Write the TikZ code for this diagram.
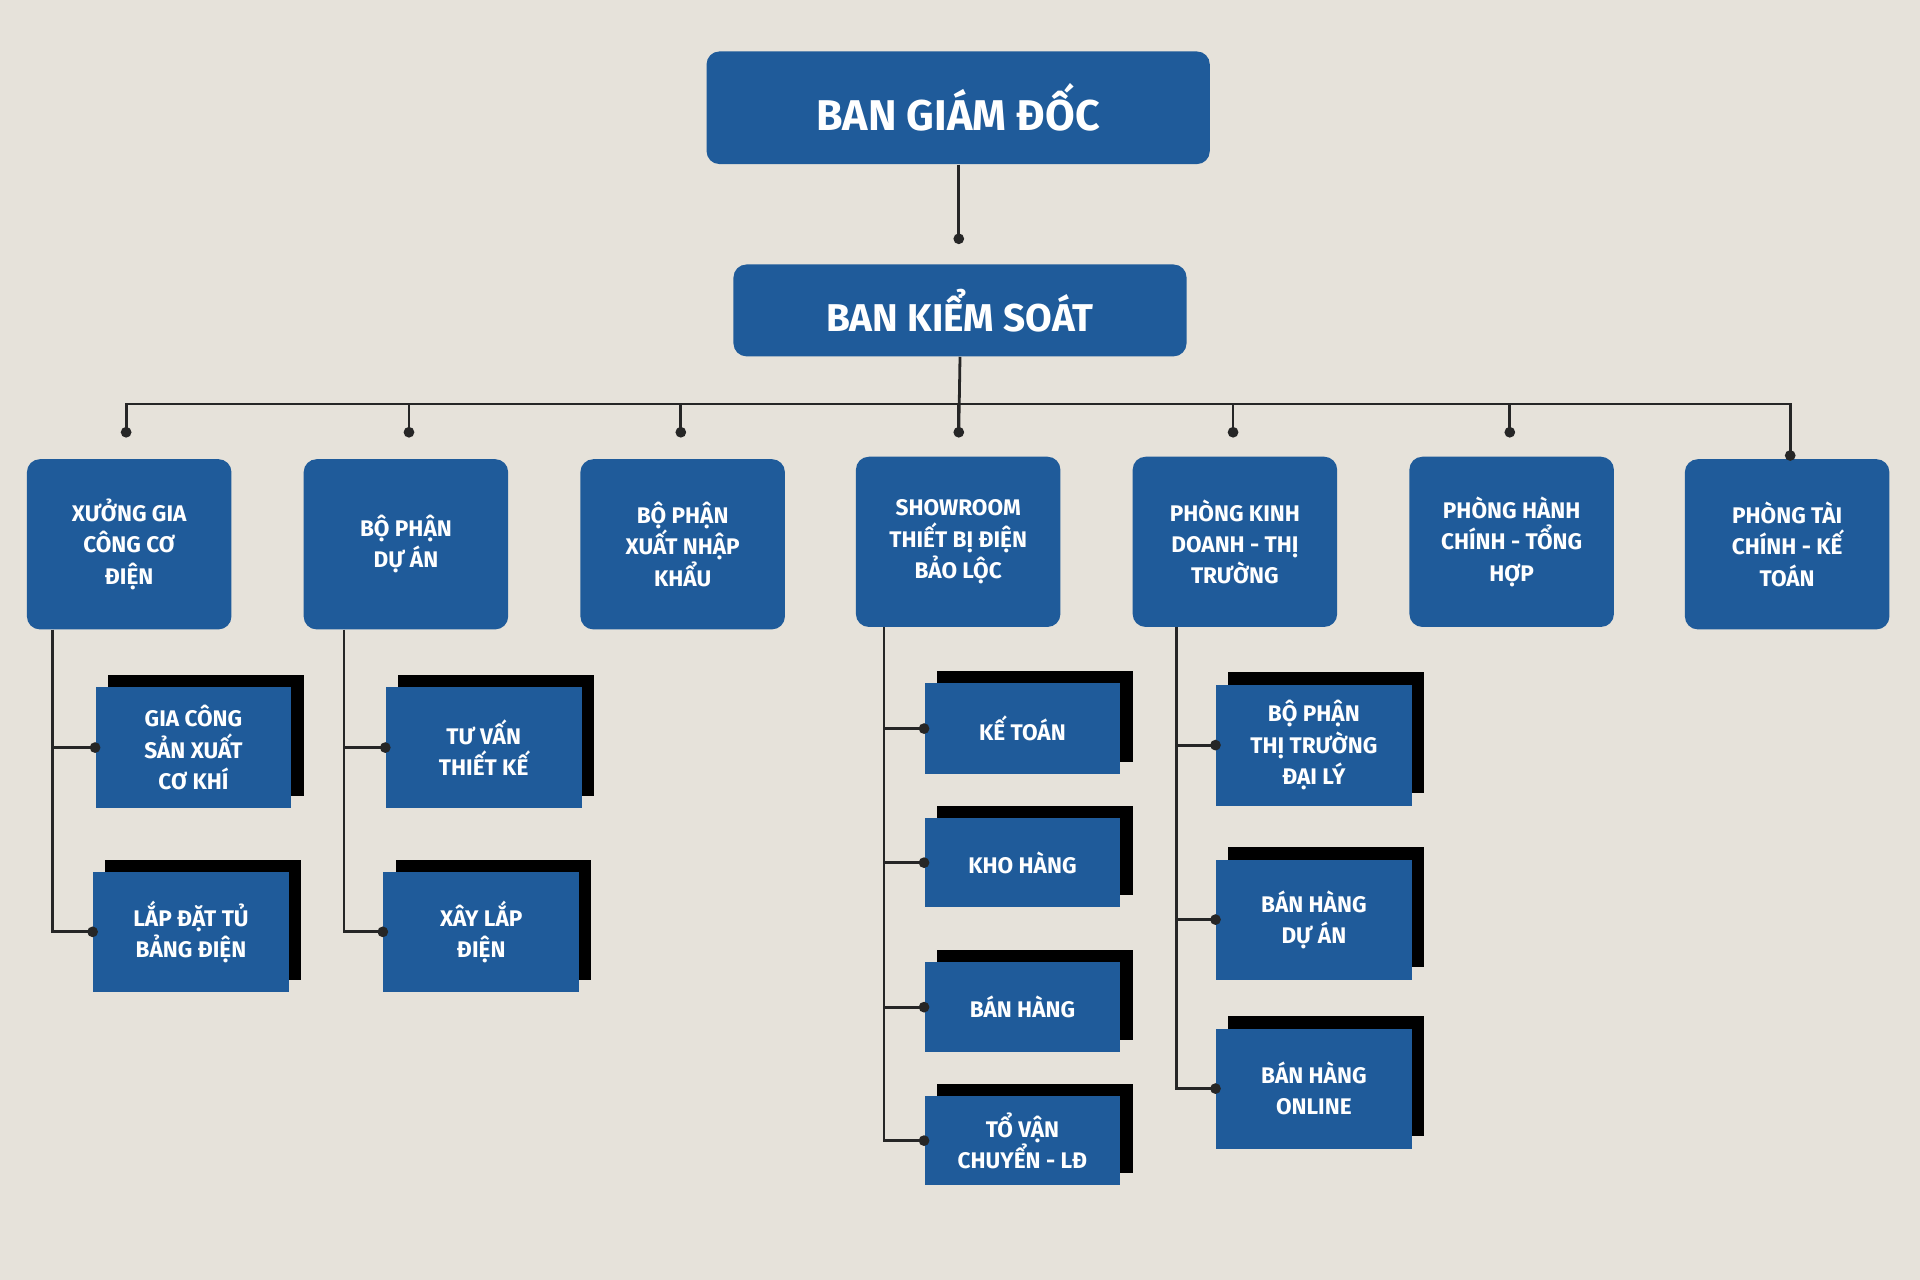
\documentclass[tikz,border=0pt]{standalone}
\usepackage{fontspec}
\setmainfont{Fira Sans}
\begin{document}
\begin{tikzpicture}[x=0.02cm,y=-0.02cm,
  bl/.style={fill=boxblue,text=white,font=\bfseries,align=center,inner sep=0pt},
  ln/.style={line width=1.3pt,black!85},
  dt/.style={circle,fill=black!85,inner sep=0pt,minimum size=5pt}]
\definecolor{boxblue}{HTML}{1F5B9A}
\definecolor{bg}{HTML}{E6E2DA}
\fill[bg] (0,0) rectangle (1568,1045);
\useasboundingbox (0,0) rectangle (1568,1045);
% top
\node[bl,rounded corners=6pt,minimum width=411*0.02cm,minimum height=92*0.02cm,font=\bfseries\fontsize{20}{24}\selectfont] (gd) at (782.5,88) {BAN GIÁM ĐỐC};
\node[bl,rounded corners=6pt,minimum width=370*0.02cm,minimum height=75*0.02cm,font=\bfseries\fontsize{18}{22}\selectfont] (ks) at (784,253.5) {BAN KIỂM SOÁT};
\coordinate (d0) at (783,195);
\draw[ln] (gd.south -| d0) -- (d0);
\node[dt] at (d0) {};
% departments
\foreach \n/\x/\yt/\yb/\t in {
 a/22/375/514/{XƯỞNG GIA\\CÔNG CƠ\\ĐIỆN},
 b/248/375/514/{BỘ PHẬN\\DỰ ÁN},
 c/474/375/514/{BỘ PHẬN\\XUẤT NHẬP\\KHẨU},
 d/699/373/512/{SHOWROOM\\THIẾT BỊ ĐIỆN\\BẢO LỘC},
 e/925/373/512/{PHÒNG KINH\\DOANH - THỊ\\TRƯỜNG},
 f/1151/373/512/{PHÒNG HÀNH\\CHÍNH - TỔNG\\HỢP},
 g/1376/375/514/{PHÒNG TÀI\\CHÍNH - KẾ\\TOÁN}}{
 \node[bl,rounded corners=6pt,minimum width=167*0.02cm,minimum height={(\yb-\yt)*0.02cm},font=\bfseries\fontsize{10.5}{14.5}\selectfont] (\n) at ({\x+83.5},{(\yt+\yb)/2}) {\t};
}
\draw[ln] (103,353) -- (103,330) -- (1462,330) -- (g.north -| 1462,0);
\draw[ln] (ks.south) -- (783,353);
\foreach \x in {103,334,556,783,1007,1233}{\draw[ln] (\x,330)--(\x,353); \node[dt] at (\x,353){};}
\node[dt] at (1462,372){};
% sub boxes
\foreach \n/\x/\y/\h/\t in {
 a1/78/610.5/99/{GIA CÔNG\\SẢN XUẤT\\CƠ KHÍ},
 a2/76/761/98/{LẮP ĐẶT TỦ\\BẢNG ĐIỆN},
 b1/315/610.5/99/{TƯ VẤN\\THIẾT KẾ},
 b2/313/761/98/{XÂY LẮP\\ĐIỆN},
 d1/755/595/74/{KẾ TOÁN},
 d2/755/704.5/73/{KHO HÀNG},
 d3/755/822.5/73/{BÁN HÀNG},
 d4/755/931.5/73/{TỔ VẬN\\CHUYỂN - LĐ},
 e1/993/608.5/99/{BỘ PHẬN\\THỊ TRƯỜNG\\ĐẠI LÝ},
 e2/993/751/98/{BÁN HÀNG\\DỰ ÁN},
 e3/993/889/98/{BÁN HÀNG\\ONLINE}}{
 \fill[black] ({\x+10},{\y-\h/2-10}) rectangle ({\x+170},{\y+\h/2-10});
 \node[bl,minimum width=160*0.02cm,minimum height=\h*0.02cm,font=\bfseries\fontsize{10.5}{14.5}\selectfont] (\n) at ({\x+80},\y) {\t};
}
% trunks
\foreach \p/\x/\ys in {a/43/{a1,a2},b/281/{b1,b2},d/722/{d1,d2,d3,d4},e/961/{e1,e2,e3}}{
 \foreach \s in \ys {
  \draw[ln] (\p.south -| \x,0) |- (\s.west);
  \node[dt] at (\s.west) {};
 }
}
\end{tikzpicture}
\end{document}
